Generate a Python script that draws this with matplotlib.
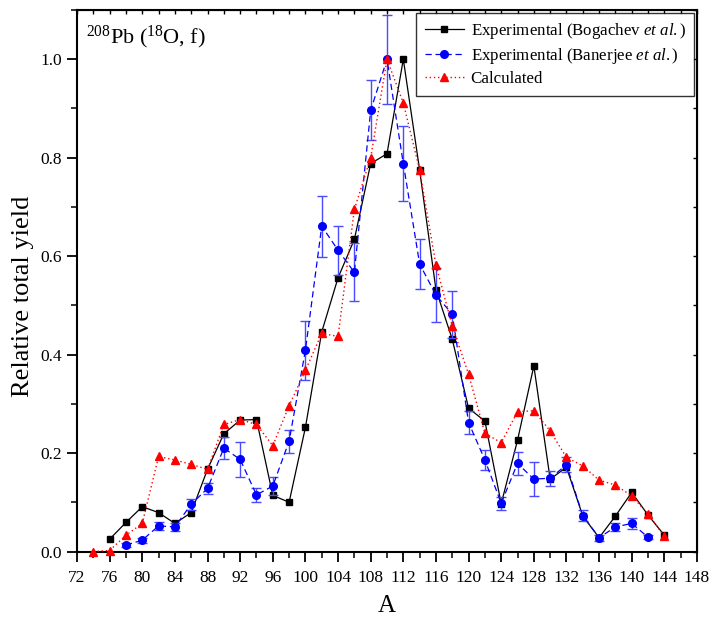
import matplotlib
matplotlib.use("Agg")
import matplotlib.pyplot as plt
from matplotlib.ticker import MultipleLocator, FormatStrFormatter

plt.rcParams['font.family'] = ['Liberation Serif', 'DejaVu Serif']
plt.rcParams['mathtext.fontset'] = 'custom'
plt.rcParams['mathtext.rm'] = 'Liberation Serif'
plt.rcParams['mathtext.it'] = 'Liberation Serif:italic'

# Bogachev et al. (experimental)
A_bog = list(range(76, 145, 2))
y_bog = [0.025, 0.059, 0.091, 0.079, 0.057, 0.079, 0.167, 0.239, 0.267, 0.268,
         0.114, 0.100, 0.252, 0.446, 0.556, 0.634, 0.788, 0.808, 1.000, 0.775,
         0.532, 0.431, 0.291, 0.265, 0.097, 0.226, 0.377, 0.147, 0.171, 0.072,
         0.028, 0.072, 0.120, 0.074, 0.033]

# Banerjee et al. (experimental, with errors)
A_ban = list(range(78, 143, 2))
y_ban = [0.013, 0.023, 0.052, 0.050, 0.096, 0.128, 0.210, 0.187, 0.115, 0.133,
         0.224, 0.409, 0.661, 0.612, 0.567, 0.896, 1.000, 0.788, 0.584, 0.521,
         0.482, 0.262, 0.186, 0.098, 0.179, 0.147, 0.149, 0.176, 0.073, 0.028,
         0.050, 0.057, 0.029]
e_ban = [0.004, 0.005, 0.008, 0.008, 0.011, 0.012, 0.022, 0.035, 0.014, 0.019,
         0.023, 0.060, 0.062, 0.050, 0.059, 0.061, 0.090, 0.076, 0.050, 0.054,
         0.048, 0.024, 0.021, 0.013, 0.023, 0.035, 0.015, 0.015, 0.012, 0.006,
         0.008, 0.012, 0.004]

# Calculated
A_cal = list(range(74, 145, 2))
y_cal = [0.000, 0.002, 0.033, 0.057, 0.193, 0.186, 0.177, 0.167, 0.258, 0.268,
         0.258, 0.215, 0.296, 0.368, 0.443, 0.437, 0.695, 0.800, 1.000, 0.911,
         0.775, 0.582, 0.458, 0.360, 0.240, 0.221, 0.284, 0.286, 0.245, 0.191,
         0.174, 0.145, 0.135, 0.113, 0.076, 0.031]

fig = plt.figure(figsize=(7.12, 6.25), dpi=100)
ax = fig.add_axes([77/712, 1-551.5/625, 620/712, 541.5/625])

ax.plot(A_bog, y_bog, color='black', lw=0.9, marker='s', ms=5, mfc='black',
        mec='black', label=r'Experimental (Bogachev $\it{et\ al.}$)', zorder=3, clip_on=False)
ax.errorbar(A_ban, y_ban, yerr=e_ban, fmt='none', ecolor='#4a4aff', elinewidth=1.0,
            capsize=3.8, capthick=1.0, zorder=4)
ax.plot(A_ban, y_ban, color='blue', lw=0.9, ls=(0, (5, 3)), marker='o', ms=5.5,
        mfc='blue', mec='blue', label=r'Experimental (Banerjee $\it{et\ al.}$)', zorder=5, clip_on=False)
ax.plot(A_cal, y_cal, color='red', lw=1.0, ls=(0, (1, 2)), marker='^', ms=6,
        mfc='red', mec='red', label='Calculated', zorder=6, clip_on=False)

ax.set_xlim(72, 148)
ax.set_ylim(0, 1.1)
ax.xaxis.set_major_locator(MultipleLocator(4))
ax.xaxis.set_minor_locator(MultipleLocator(2))
ax.yaxis.set_major_locator(MultipleLocator(0.2))
ax.yaxis.set_minor_locator(MultipleLocator(0.1))
ax.yaxis.set_major_formatter(FormatStrFormatter('%.1f'))

for s in ax.spines.values():
    s.set_linewidth(1.5)

ax.tick_params(axis='both', which='major', direction='out', length=7, width=1.3,
               labelsize=12.5, top=False, right=False)
ax.tick_params(axis='both', which='minor', direction='out', length=4.5, width=1.1,
               top=False, right=False)
ax.tick_params(axis='x', which='major', pad=6)
ax.tick_params(axis='y', which='major', pad=4)

# inward ticks on top/right
axt = ax.secondary_xaxis('top')
axt.xaxis.set_major_locator(MultipleLocator(4))
axt.xaxis.set_minor_locator(MultipleLocator(2))
axt.tick_params(which='both', direction='in', length=3, width=1.0, labeltop=False)
axr = ax.secondary_yaxis('right')
axr.yaxis.set_major_locator(MultipleLocator(0.2))
axr.yaxis.set_minor_locator(MultipleLocator(0.1))
axr.tick_params(which='both', direction='in', length=3, width=1.0, labelright=False)

ax.set_xlabel('A', fontsize=18, labelpad=7)
ax.set_ylabel('Relative total yield', fontsize=19)
ax.yaxis.set_label_coords(-0.069, 0.472)

ax.text(0.015, 0.975, r'$^{208}$Pb ($^{18}$O, f)', transform=ax.transAxes,
        fontsize=16, va='top', ha='left')

leg = ax.legend(loc='upper right', fontsize=12.2, frameon=True, fancybox=False,
                edgecolor='black', handlelength=2.3, borderaxespad=0.15,
                labelspacing=0.3, handletextpad=0.4, borderpad=0.5)
leg.get_frame().set_linewidth(1.0)

fig.savefig('out.png', dpi=100)
